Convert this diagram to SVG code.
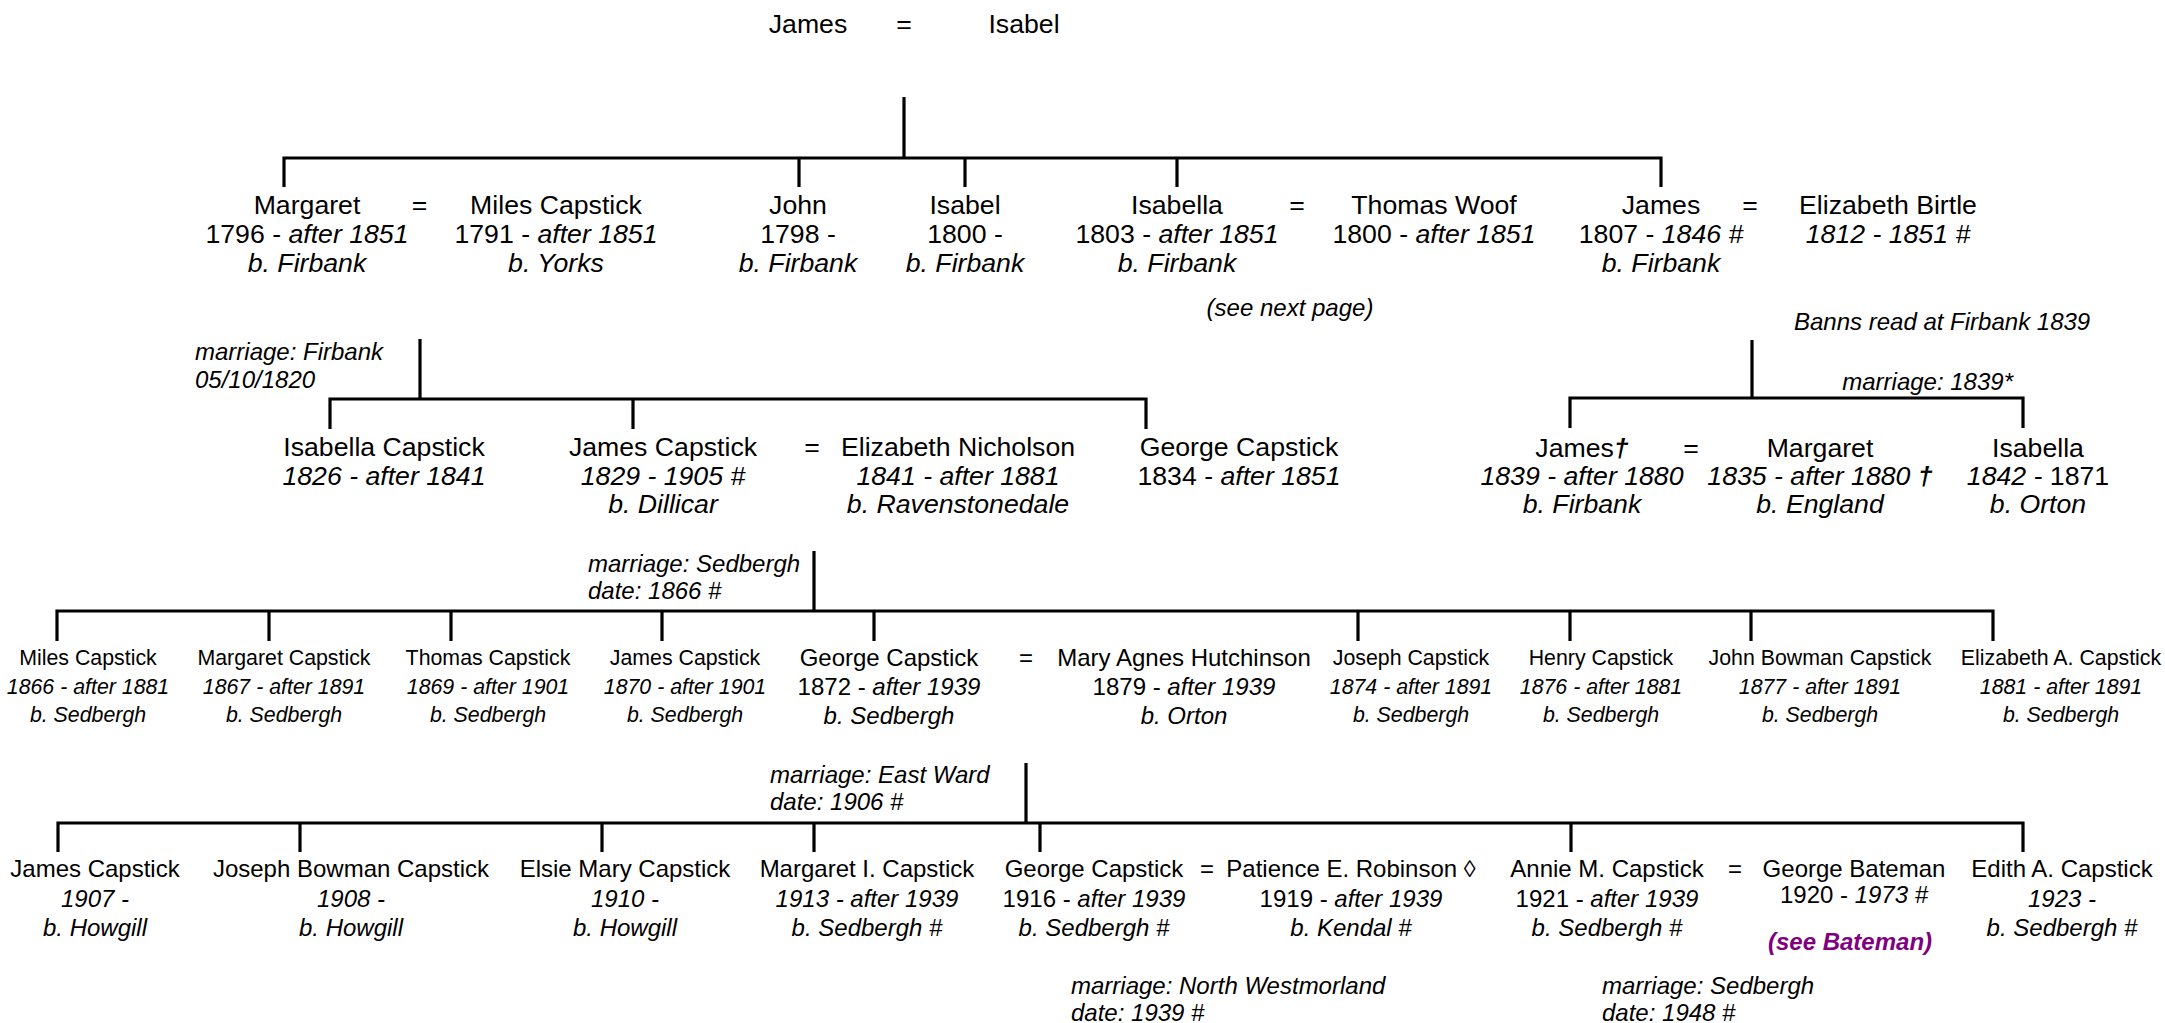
<svg xmlns="http://www.w3.org/2000/svg" width="2165" height="1023" viewBox="0 0 2165 1023">
<style>
text{font-family:"Liberation Sans",Arial,Helvetica,sans-serif;fill:#000;text-anchor:middle}
.n{font-size:26.67px}
.m{font-size:24px}
.s{font-size:21.33px}
.i{font-style:italic}
.b{font-weight:bold}
.a{font-size:24px;font-style:italic;text-anchor:start}
.e{text-anchor:end}
.p{fill:#800080;font-weight:bold;font-style:italic}
.c{fill:none;stroke:#000;stroke-width:3.2;stroke-linecap:butt;stroke-linejoin:miter}
</style>
<rect width="2165" height="1023" fill="#fff"/>
<g id="connectors" class="c">
<path d="M904 97V158M284 187V158H1661V187M799 158V187M965 158V187M1177 158V187"/>
<path d="M420 339V399M330 429V399H1146V429M633 399V429"/>
<path d="M1752 340V398M1570 428V398H2023V428"/>
<path d="M814 551V611M57 641V611H1993V641M269 611V641M451 611V641M662 611V641M874 611V641M1358 611V641M1570 611V641M1751 611V641"/>
<path d="M1026 763V823M58 852V823H2023V852M300 823V852M602 823V852M814 823V852M1040 823V852M1571 823V852"/>
</g>
<g id="root" class="n">
<text x="808" y="33">James</text><text x="904" y="33">=</text><text x="1024" y="33">Isabel</text>
</g>
<!-- generation 1 -->
<g id="margaret" class="n">
<text x="307" y="214">Margaret</text>
<text x="307" y="243">1796 - <tspan class="i">after 1851</tspan></text>
<text x="307" y="272" class="i">b. Firbank</text>
</g>
<text class="n" x="419.5" y="214">=</text>
<g id="miles" class="n">
<text x="556" y="214">Miles Capstick</text>
<text x="556" y="243">1791 - <tspan class="i">after 1851</tspan></text>
<text x="556" y="272" class="i">b. Yorks</text>
</g>
<g id="john" class="n">
<text x="798" y="214">John</text>
<text x="798" y="243">1798 -</text>
<text x="798" y="272" class="i">b. Firbank</text>
</g>
<g id="isabel" class="n">
<text x="965" y="214">Isabel</text>
<text x="965" y="243">1800 -</text>
<text x="965" y="272" class="i">b. Firbank</text>
</g>
<g id="isabella" class="n">
<text x="1177" y="214">Isabella</text>
<text x="1177" y="243">1803 - <tspan class="i">after 1851</tspan></text>
<text x="1177" y="272" class="i">b. Firbank</text>
</g>
<text class="n" x="1297" y="214">=</text>
<g id="thomaswoof" class="n">
<text x="1434" y="214">Thomas Woof</text>
<text x="1434" y="243">1800 - <tspan class="i">after 1851</tspan></text>
</g>
<text class="m i" x="1290" y="316">(see next page)</text>
<g id="james1807" class="n">
<text x="1661" y="214">James</text>
<text x="1661" y="243">1807 - <tspan class="i">1846 #</tspan></text>
<text x="1661" y="272" class="i">b. Firbank</text>
</g>
<text class="n" x="1750" y="214">=</text>
<g id="elizabethbirtle" class="n">
<text x="1888" y="214">Elizabeth Birtle</text>
<text x="1888" y="243" class="i">1812 - 1851 #</text>
</g>
<text class="a" x="1794" y="330">Banns read at Firbank 1839</text>
<!-- generation 2 left -->
<text class="a" x="195" y="360">marriage: Firbank</text>
<text class="a" x="195" y="388">05/10/1820</text>
<g id="isabellacapstick" class="n">
<text x="384" y="456">Isabella Capstick</text>
<text x="384" y="485" class="i">1826 - after 1841</text>
</g>
<g id="jamescapstick1829" class="n">
<text x="663" y="456">James Capstick</text>
<text x="663" y="485" class="i">1829 - 1905 #</text>
<text x="663" y="513" class="i">b. Dillicar</text>
</g>
<text class="n" x="812" y="456">=</text>
<g id="elizabethnicholson" class="n">
<text x="958" y="456">Elizabeth Nicholson</text>
<text x="958" y="485" class="i">1841 - after 1881</text>
<text x="958" y="513" class="i">b. Ravenstonedale</text>
</g>
<g id="georgecapstick1834" class="n">
<text x="1239" y="456">George Capstick</text>
<text x="1239" y="485">1834 - <tspan class="i">after 1851</tspan></text>
</g>
<!-- generation 2 right -->
<text class="a e" x="2013" y="390">marriage: 1839*</text>
<g id="james1839" class="n">
<text x="1582" y="457">James<tspan class="i b">†</tspan></text>
<text x="1582" y="485" class="i">1839 - after 1880</text>
<text x="1582" y="513" class="i">b. Firbank</text>
</g>
<text class="n" x="1691" y="457">=</text>
<g id="margaret1835" class="n">
<text x="1820" y="457">Margaret</text>
<text x="1820" y="485" class="i">1835 - after 1880 <tspan class="b">†</tspan></text>
<text x="1820" y="513" class="i">b. England</text>
</g>
<g id="isabella1842" class="n">
<text x="2038" y="457">Isabella</text>
<text x="2038" y="485"><tspan class="i">1842 - </tspan>1871</text>
<text x="2038" y="513" class="i">b. Orton</text>
</g>
<!-- generation 3 -->
<text class="a" x="588" y="572">marriage: Sedbergh</text>
<text class="a" x="588" y="599">date: 1866 #</text>
<g id="miles1866" class="s">
<text x="88" y="665">Miles Capstick</text>
<text x="88" y="694" class="i">1866 - after 1881</text>
<text x="88" y="722" class="i">b. Sedbergh</text>
</g>
<g id="margaret1867" class="s">
<text x="284" y="665">Margaret Capstick</text>
<text x="284" y="694" class="i">1867 - after 1891</text>
<text x="284" y="722" class="i">b. Sedbergh</text>
</g>
<g id="thomas1869" class="s">
<text x="488" y="665">Thomas Capstick</text>
<text x="488" y="694" class="i">1869 - after 1901</text>
<text x="488" y="722" class="i">b. Sedbergh</text>
</g>
<g id="james1870" class="s">
<text x="685" y="665">James Capstick</text>
<text x="685" y="694" class="i">1870 - after 1901</text>
<text x="685" y="722" class="i">b. Sedbergh</text>
</g>
<g id="george1872" class="m">
<text x="889" y="666">George Capstick</text>
<text x="889" y="695">1872 - <tspan class="i">after 1939</tspan></text>
<text x="889" y="724" class="i">b. Sedbergh</text>
</g>
<text class="m" x="1026" y="666">=</text>
<g id="maryagnes" class="m">
<text x="1184" y="666">Mary Agnes Hutchinson</text>
<text x="1184" y="695">1879 - <tspan class="i">after 1939</tspan></text>
<text x="1184" y="724" class="i">b. Orton</text>
</g>
<g id="joseph1874" class="s">
<text x="1411" y="665">Joseph Capstick</text>
<text x="1411" y="694" class="i">1874 - after 1891</text>
<text x="1411" y="722" class="i">b. Sedbergh</text>
</g>
<g id="henry1876" class="s">
<text x="1601" y="665">Henry Capstick</text>
<text x="1601" y="694" class="i">1876 - after 1881</text>
<text x="1601" y="722" class="i">b. Sedbergh</text>
</g>
<g id="johnbowman1877" class="s">
<text x="1820" y="665">John Bowman Capstick</text>
<text x="1820" y="694" class="i">1877 - after 1891</text>
<text x="1820" y="722" class="i">b. Sedbergh</text>
</g>
<g id="elizabeth1881" class="s">
<text x="2061" y="665">Elizabeth A. Capstick</text>
<text x="2061" y="694" class="i">1881 - after 1891</text>
<text x="2061" y="722" class="i">b. Sedbergh</text>
</g>
<!-- generation 4 -->
<text class="a" x="770" y="783">marriage: East Ward</text>
<text class="a" x="770" y="810">date: 1906 #</text>
<g id="james1907" class="m">
<text x="95" y="877">James Capstick</text>
<text x="95" y="907" class="i">1907 -</text>
<text x="95" y="936" class="i">b. Howgill</text>
</g>
<g id="joseph1908" class="m">
<text x="351" y="877">Joseph Bowman Capstick</text>
<text x="351" y="907" class="i">1908 -</text>
<text x="351" y="936" class="i">b. Howgill</text>
</g>
<g id="elsie1910" class="m">
<text x="625" y="877">Elsie Mary Capstick</text>
<text x="625" y="907" class="i">1910 -</text>
<text x="625" y="936" class="i">b. Howgill</text>
</g>
<g id="margaret1913" class="m">
<text x="867" y="877">Margaret I. Capstick</text>
<text x="867" y="907" class="i">1913 - after 1939</text>
<text x="867" y="936" class="i">b. Sedbergh #</text>
</g>
<g id="george1916" class="m">
<text x="1094" y="877">George Capstick</text>
<text x="1094" y="907">1916 - <tspan class="i">after 1939</tspan></text>
<text x="1094" y="936" class="i">b. Sedbergh #</text>
</g>
<text class="m" x="1207" y="877">=</text>
<g id="patience1919" class="m">
<text x="1351" y="877">Patience E. Robinson ◊</text>
<text x="1351" y="907">1919 - <tspan class="i">after 1939</tspan></text>
<text x="1351" y="936" class="i">b. Kendal #</text>
</g>
<g id="annie1921" class="m">
<text x="1607" y="877">Annie M. Capstick</text>
<text x="1607" y="907">1921 - <tspan class="i">after 1939</tspan></text>
<text x="1607" y="936" class="i">b. Sedbergh #</text>
</g>
<text class="m" x="1735" y="877">=</text>
<g id="georgebateman" class="m">
<text x="1854" y="877">George Bateman</text>
<text x="1854" y="903">1920 - <tspan class="i">1973 #</tspan></text>
<text x="1850" y="950" class="p">(see Bateman)</text>
</g>
<g id="edith1923" class="m">
<text x="2062" y="877">Edith A. Capstick</text>
<text x="2062" y="907" class="i">1923 -</text>
<text x="2062" y="936" class="i">b. Sedbergh #</text>
</g>
<text class="a" x="1071" y="994">marriage: North Westmorland</text>
<text class="a" x="1071" y="1021">date: 1939 #</text>
<text class="a" x="1602" y="994">marriage: Sedbergh</text>
<text class="a" x="1602" y="1021">date: 1948 #</text>
</svg>
